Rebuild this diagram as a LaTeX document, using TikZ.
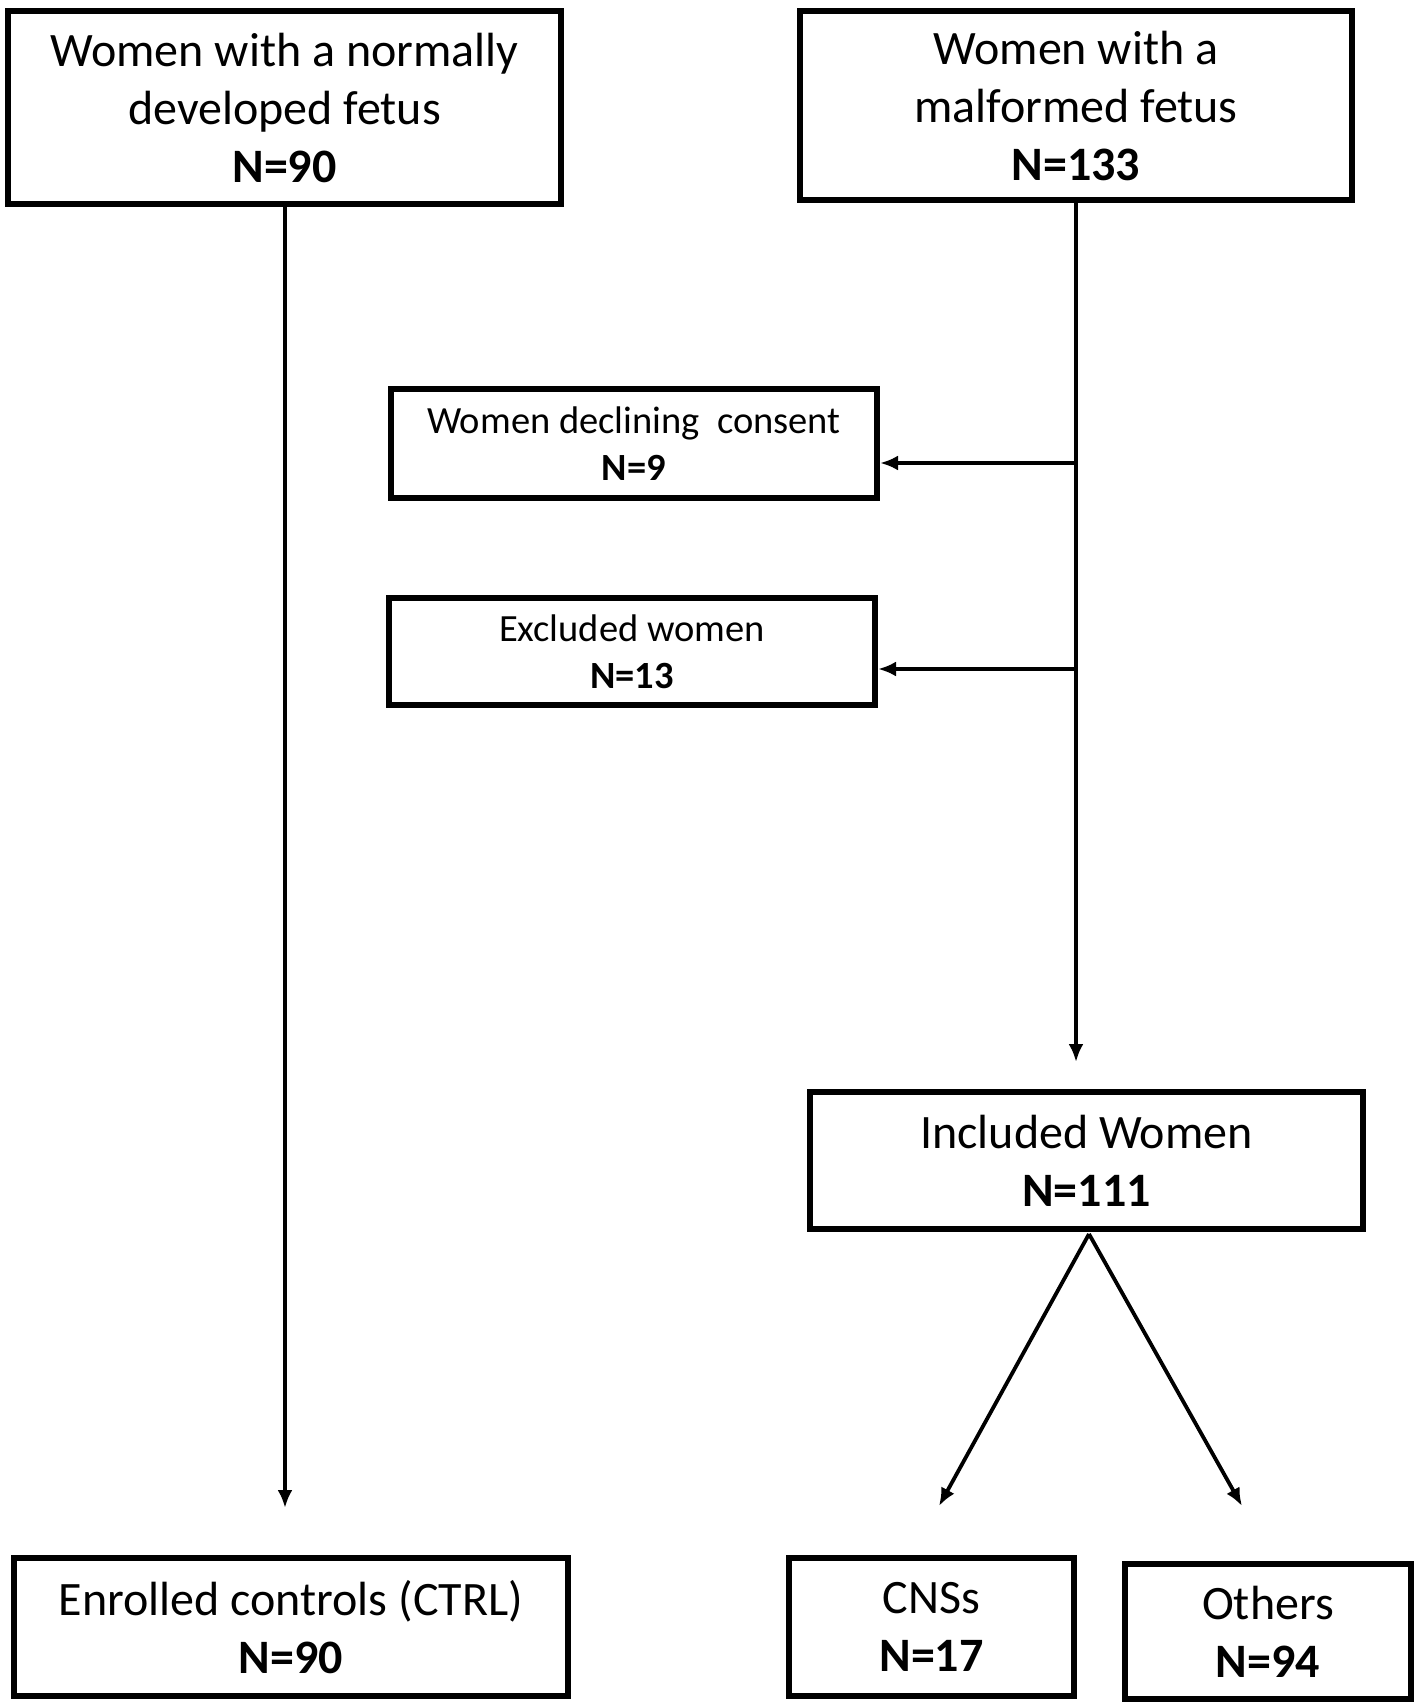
\documentclass[tikz,border=0pt]{standalone}
\usepackage{fontspec}
\setmainfont{Carlito}
\usetikzlibrary{arrows.meta}
\tikzset{
  boxbig/.style={draw, line width=6pt, inner sep=0pt, align=center,
    font=\fontsize{48}{58}\selectfont},
  boxsmall/.style={draw, line width=6pt, inner sep=0pt, align=center,
    font=\fontsize{38.5}{47}\selectfont},
  conn/.style={line width=3.8pt, -{Latex[length=18pt,width=15pt]}},
}
\begin{document}
\begin{tikzpicture}[x=1pt,y=-1pt]
\useasboundingbox[fill=white] (0,0) rectangle (1418,1708);
% boxes (center, size = outer - line width)
\node[boxbig, minimum width=553pt, minimum height=193pt] (b1) at (284.5,107.5)
  {Women with a normally\\developed fetus\\\textbf{N=90}};
\node[boxbig, minimum width=552pt, minimum height=189pt] (b2) at (1076,105.5)
  {Women with a\\malformed fetus\\\textbf{N=133}};
\node[boxsmall, minimum width=486pt, minimum height=109pt] (b3) at (634,443.5)
  {Women declining\ \ consent\\\textbf{N=9}};
\node[boxsmall, minimum width=486pt, minimum height=107pt] (b4) at (632,651.5)
  {Excluded women\\\textbf{N=13}};
\node[boxbig, minimum width=553pt, minimum height=137pt] (b5) at (1086.5,1160.5)
  {Included Women\\\textbf{N=111}};
\node[boxbig, minimum width=554pt, minimum height=138pt] (b6) at (291,1627)
  {Enrolled controls (CTRL)\\\textbf{N=90}};
\node[boxbig, minimum width=285pt, minimum height=138pt] (b7) at (931.5,1627)
  {CNSs\\\textbf{N=17}};
\node[boxbig, minimum width=286pt, minimum height=135pt] (b8) at (1268,1631.5)
  {Others\\\textbf{N=94}};
% free ends and branch points
\coordinate (e1) at (285,1508);
\coordinate (e2) at (1076,1062);
\coordinate (e3) at (939,1506);
\coordinate (e4) at (1242,1506);
\coordinate (top5) at (1089,1234);
\coordinate (br3) at (1076,463);
\coordinate (br4) at (1076,669);
% connectors
\draw[conn] (b1.south -| e1) -- (e1);
\draw[conn] (b2.south) -- (e2);
\draw[conn] (br3) -- (br3 -| b3.east);
\draw[conn] (br4) -- (br4 -| b4.east);
\draw[conn] (top5) -- (e3);
\draw[conn] (top5) -- (e4);
\end{tikzpicture}
\end{document}
